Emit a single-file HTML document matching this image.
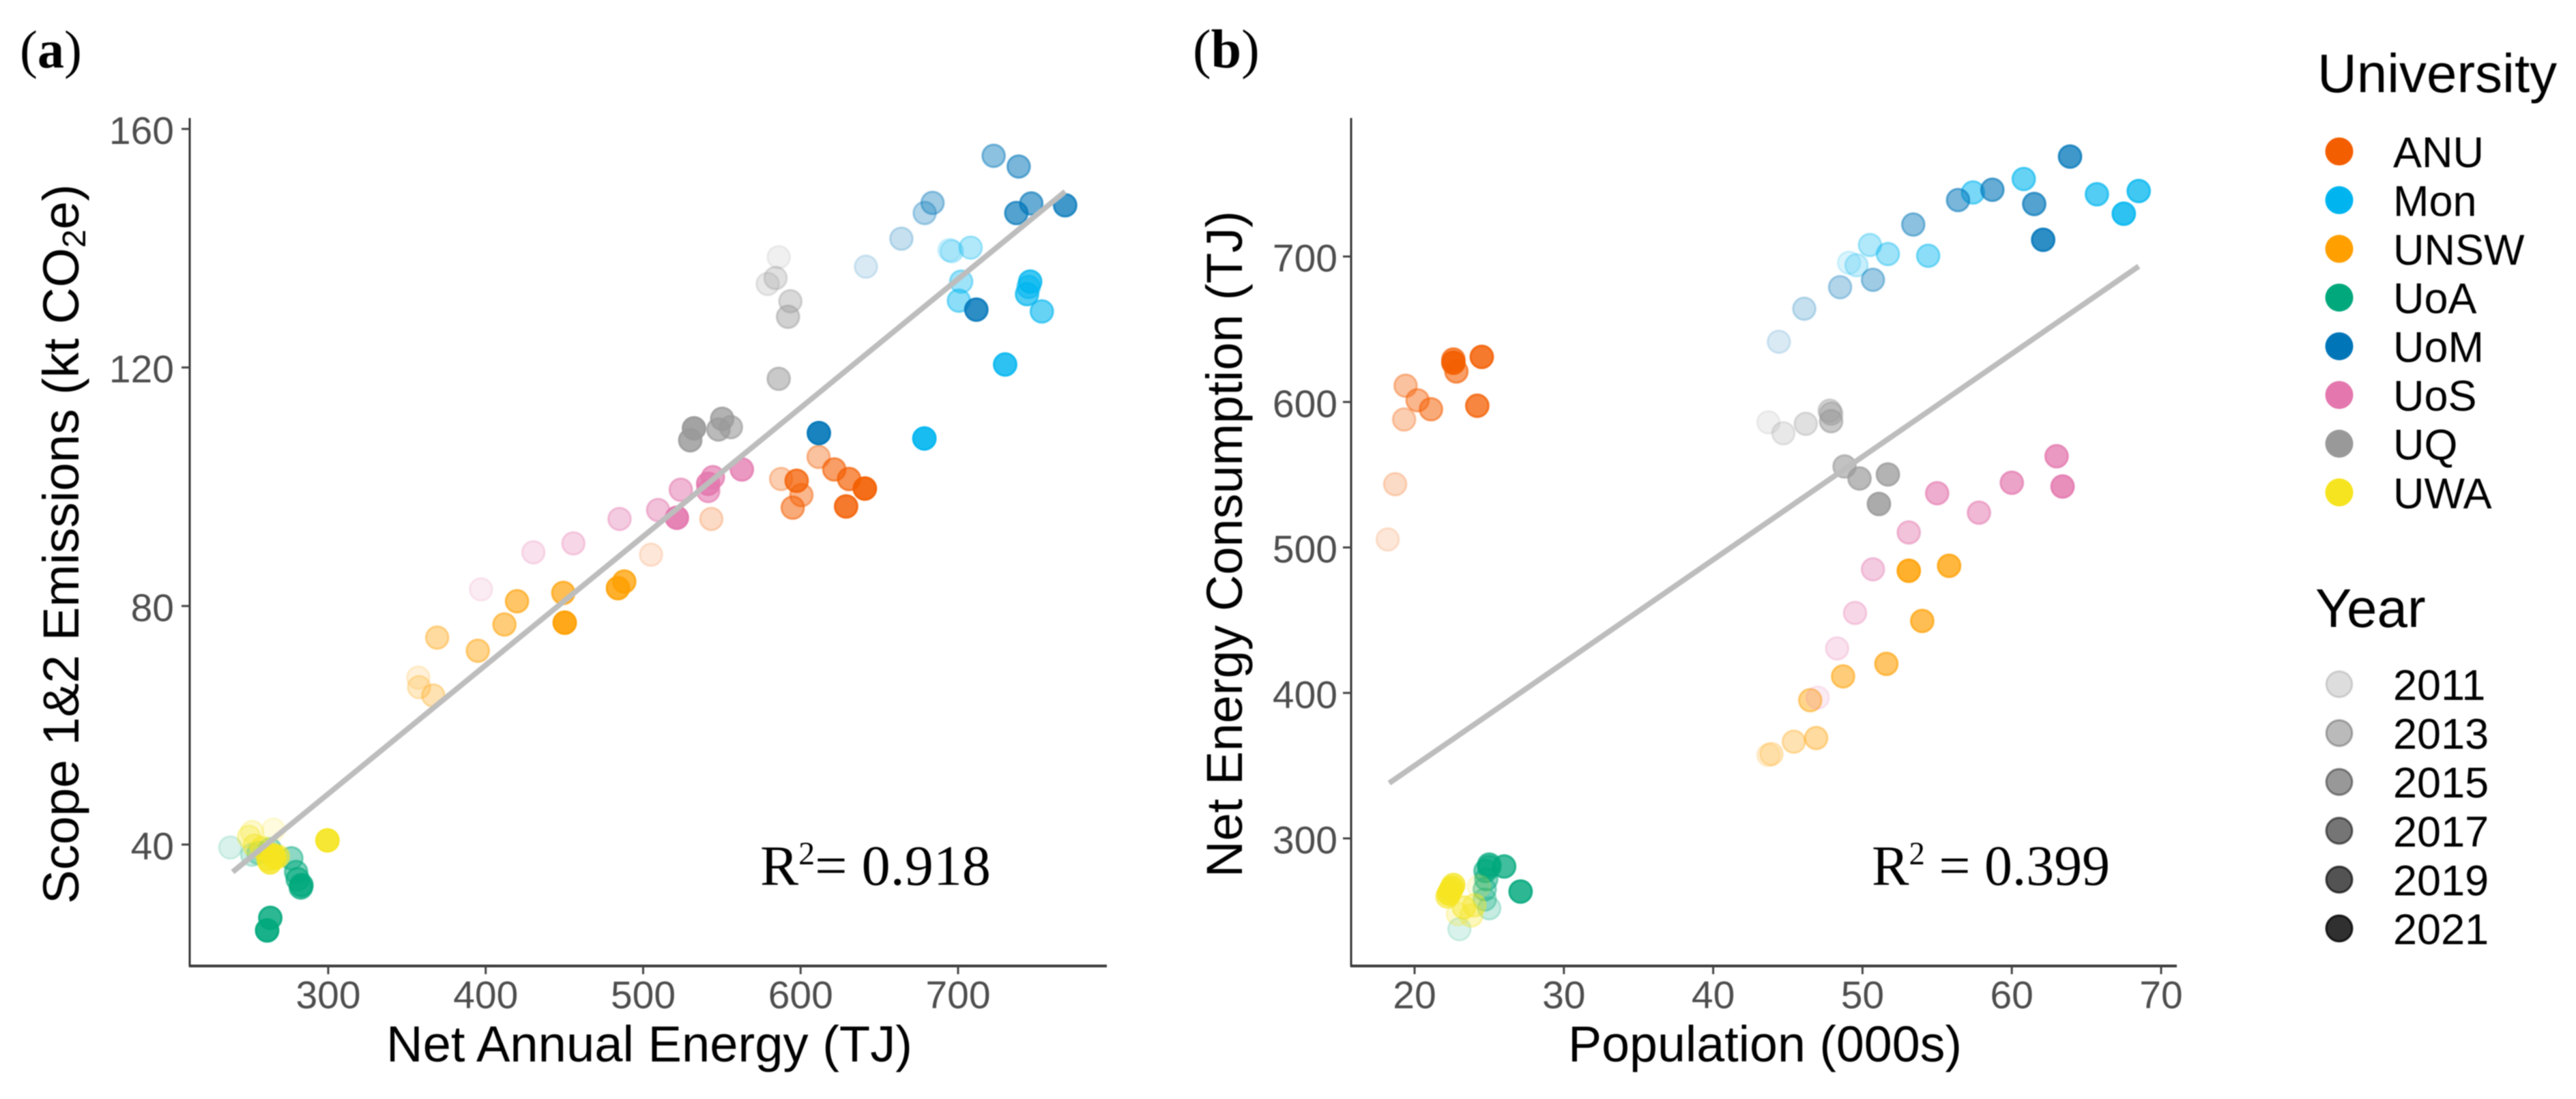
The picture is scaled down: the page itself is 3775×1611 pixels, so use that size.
<!DOCTYPE html>
<html lang="en">
<head>
<meta charset="utf-8">
<title>University energy and emissions scatter plots</title>
<style>
html,body{margin:0;padding:0;background:#fff;width:3775px;height:1611px;overflow:hidden}
svg{display:block;filter:blur(0.8px)}
text{font-family:"Liberation Sans",Arial,sans-serif;fill:#000}
.serif{font-family:"Liberation Serif","Times New Roman",serif}
.tick{font-size:57px;fill:#4d4d4d}
.title{font-size:74px}
.leg{font-size:63px}
.legt{font-size:80px}
</style>
</head>
<body>
<svg id="figure" xmlns="http://www.w3.org/2000/svg" width="3775" height="1611" viewBox="0 0 3775 1611">
  <rect width="3775" height="1611" fill="#fff"/>
  <text class="serif" x="29" y="99" font-size="78">(<tspan font-weight="bold">a</tspan>)</text>
  <text class="serif" x="1748" y="99" font-size="80">(<tspan font-weight="bold">b</tspan>)</text>

  <g id="panelA"></g>
  <g id="panelB"></g>

  <text class="title" transform="translate(115,1325) rotate(-90)" x="0" y="0" textLength="1055" lengthAdjust="spacingAndGlyphs">Scope 1&amp;2 Emissions (kt CO<tspan font-size="48" dy="10">2</tspan><tspan dy="-10">e)</tspan></text>
  <text class="title" x="566" y="1556" textLength="771" lengthAdjust="spacingAndGlyphs">Net Annual Energy (TJ)</text>
  <text class="title" transform="translate(1820,1286) rotate(-90)" x="0" y="0" textLength="977" lengthAdjust="spacingAndGlyphs">Net Energy Consumption (TJ)</text>
  <text class="title" x="2298" y="1556" textLength="577" lengthAdjust="spacingAndGlyphs">Population (000s)</text>

  <text class="serif" x="1114" y="1297" font-size="84" textLength="338" lengthAdjust="spacingAndGlyphs">R<tspan font-size="48" dy="-30">2</tspan><tspan dy="30">= 0.918</tspan></text>
  <text class="serif" x="2743" y="1297" font-size="84" textLength="349" lengthAdjust="spacingAndGlyphs">R<tspan font-size="48" dy="-30">2</tspan><tspan dy="30"> = 0.399</tspan></text>

  <text class="legt" x="3396" y="135">University</text>
  <text class="legt" x="3393" y="919">Year</text>
  <g id="legendU"></g>
  <g id="legendY"></g>
</svg>
<script>
// ---- categories ----
const universities = ['ANU','Mon','UNSW','UoA','UoM','UoS','UQ','UWA'];
const legendYears = [2011,2013,2015,2017,2019,2021];
const years = [2011,2012,2013,2014,2015,2016,2017,2018,2019,2020,2021];

// ---- panel (a): net annual energy (TJ), scope 1&2 emissions (kt CO2e) ----
const anuEnergy  = [505,543.3,587.6,611.4,600.5,595,621.4,630.8,597.5,628.9,640.8];
const anuEmis    = [88.6,94.6,101.3,105,98.6,96.5,102.9,101.3,101,96.7,99.7];
const monEnergy  = [694.5,696,708,702,700.5,744.8,753.2,743.8,745.8,729.9,678.6];
const monEmis    = [139.7,139.5,140.1,134.4,131.2,133.5,129.4,132.3,134.4,120.5,108.1];
const unswEnergy = [357.2,357.7,366.7,369.2,395,411.9,419.9,449.3,488,484,450.2];
const unswEmis   = [68,66.4,65,74.7,72.5,76.9,80.8,82.2,84.1,83,77.2];
const uoaEnergy  = [237.8,251.7,255.7,263,276.6,279.6,280.6,282.6,283,263.2,261.2];
const uoaEmis    = [39.5,38.3,38.6,39.2,37.7,35.4,34.2,32.8,33.2,27.7,25.6];
const uomEnergy  = [641.5,664,678.8,683.8,722.6,738.5,746.5,737,768,711.6,611.6];
const uomEmis    = [136.9,141.6,145.9,147.6,155.5,153.7,147.5,145.9,147.2,129.7,109];
const uosEnergy  = [397,430.3,455.7,485,509.5,523.9,541.3,544.3,562.7,541.3,521.4];
const uosEmis    = [82.8,89,90.5,94.6,96.1,99.5,99.3,101.6,102.9,100.5,94.8];
const uqEnergy   = [586.1,579.1,584.1,593.5,592,586.1,555.7,547.8,550.2,529.9,532.3];
const uqEmis     = [138.5,134,135,131.1,128.5,118.1,110,109.6,111.4,107.8,109.8];
const uwaEnergy  = [265.2,251.7,249.7,253.2,258,268,262,266,263,265,299.5];
const uwaEmis    = [42.5,42.1,41.3,39.8,39.4,38,37.5,37.8,37,38.2,40.7];

// ---- panel (b): population (000s), net energy consumption (TJ) ----
const anuPop  = [18.2,18.7,19.3,19.4,20.2,21.1,22.8,22.6,24.2,24.5,22.6];
const anuCons = [505.5,543.5,588,611.2,601.2,595,621,629.2,597.4,631,627];
const monPop  = [49.1,49.6,50.5,51.7,54.4,57.4,60.8,65.7,68.5,67.5];
const monCons = [695.7,694,707.9,701.7,700.5,744,753.3,742.8,745,729.4];
const unswPop  = [43.7,43.9,45.4,46.9,46.5,48.7,51.6,54,55.8,53.1];
const unswCons = [357.3,358,366.5,369,395,411.4,420,449.5,487.4,484];
const uoaPop  = [23,25,24.7,24.7,24.8,24.75,25,25,26,27.1];
const uoaCons = [237.6,252,258,265,272,277.6,280.3,282,280.7,263.5];
const uomPop  = [44.4,46.1,48.5,50.7,53.4,56.4,58.7,61.5,63.9,62.1];
const uomCons = [641.4,664.1,678.9,684,722,738.8,745.9,736.1,768.7,711.5];
const uosPop  = [47,48.3,49.5,50.7,53.1,57.8,55,60,63,63.4];
const uosCons = [396.8,430.6,455,485,510.3,523.9,537.3,544.5,562.7,541.9];
const uqPop  = [43.7,44.7,46.2,47.8,47.9,47.9,48.8,49.8,51.7,51.1];
const uqCons = [586,578.5,585,594,592,586.8,555.7,547.4,550.2,529.9];
const uwaPop  = [24.3,22.9,23.8,24,23.3,22.2,22.4,22.6,22.5,22.3];
const uwaCons = [267,248,247,254,252.6,260,264,268,266,262];

// ---- regression lines (endpoints in data units) ----
const fitAX = [239.3,768];
const fitAY = [35.4,149.5];
const fitBX = [18.3,68.5];
const fitBY = [338,693.3];

// ---- tick labels ----
const aXTicks = [300,400,500,600,700];
const aYTicks = [40,80,120,160];
const bXTicks = [20,30,40,50,60,70];
const bYTicks = [300,400,500,600,700];

const colors = {ANU:'#F35E00',Mon:'#00B5EF',UNSW:'#FF9F00',UoA:'#00A87C',UoM:'#0075B8',UoS:'#E377AE',UQ:'#999999',UWA:'#F5E41F'};
const seriesA = {ANU:[anuEnergy,anuEmis],Mon:[monEnergy,monEmis],UNSW:[unswEnergy,unswEmis],UoA:[uoaEnergy,uoaEmis],UoM:[uomEnergy,uomEmis],UoS:[uosEnergy,uosEmis],UQ:[uqEnergy,uqEmis],UWA:[uwaEnergy,uwaEmis]};
const seriesB = {ANU:[anuPop,anuCons],Mon:[monPop,monCons],UNSW:[unswPop,unswCons],UoA:[uoaPop,uoaCons],UoM:[uomPop,uomCons],UoS:[uosPop,uosCons],UQ:[uqPop,uqCons],UWA:[uwaPop,uwaCons]};

const NS = 'http://www.w3.org/2000/svg';
function make(tag, attrs, parent){
  const el = document.createElementNS(NS, tag);
  for (const k in attrs) el.setAttribute(k, attrs[k]);
  parent.appendChild(el);
  return el;
}
function linear(d0,d1,r0,r1){ return v => r0 + (v-d0)*(r1-r0)/(d1-d0); }
function alphaFor(year){ return 0.15 + 0.075*(year-2011); }

function drawPanel(g, cfg){
  const x = cfg.x, y = cfg.y;

  const yAxis = make('line',{x1:cfg.left,x2:cfg.left,y1:173,y2:cfg.bottom+1,stroke:'#333',"stroke-width":3},g);
  
  
  const xAxis = make('line',{x1:cfg.left-1,x2:cfg.right,y1:cfg.bottom,y2:cfg.bottom,stroke:'#3a3a3a',"stroke-width":4},g);
  
  

  cfg.xTicks.forEach(t => {
    const tk = make('line',{x1:x(t),x2:x(t),y1:cfg.bottom,y2:cfg.bottom+12,stroke:'#444',"stroke-width":3},g);
    
    
    const lb = make('text',{x:x(t),y:1478,"text-anchor":'middle','class':'tick'},g);
    
    
    lb.textContent = t;
  });
  cfg.yTicks.forEach(t => {
    const tk = make('line',{x1:cfg.left-12,x2:cfg.left,y1:y(t),y2:y(t),stroke:'#444',"stroke-width":3},g);
    
    
    const lb = make('text',{x:cfg.labelRight,y:y(t)+22,"text-anchor":'end','class':'tick'},g);
    
    
    lb.textContent = t;
  });

  universities.forEach(u => {
    const xs = cfg.series[u][0], ys = cfg.series[u][1];
    xs.forEach((v,i) => {
      const a = alphaFor(years[i]);
      const c = make('circle',{cx:x(v),cy:y(ys[i]),r:16.5,fill:colors[u],stroke:colors[u],"stroke-width":3,"fill-opacity":a,"stroke-opacity":a},g);
      
      
    });
  });

  const fit = make('line',{x1:x(cfg.fitX[0]),y1:y(cfg.fitY[0]),x2:x(cfg.fitX[1]),y2:y(cfg.fitY[1]),stroke:'#bdbdbd',"stroke-width":8},g);
  
  
}

drawPanel(document.getElementById('panelA'),{
  x:linear(300,700,481,1404), y:linear(40,160,1238,189),
  left:278, right:1622, bottom:1416, labelRight:255,
  xTicks:aXTicks, yTicks:aYTicks, series:seriesA, fitX:fitAX, fitY:fitAY
});
drawPanel(document.getElementById('panelB'),{
  x:linear(20,70,2073,3167), y:linear(300,700,1229,376),
  left:1980, right:3190, bottom:1416, labelRight:1960,
  xTicks:bXTicks, yTicks:bYTicks, series:seriesB, fitX:fitBX, fitY:fitBY
});

const legU = document.getElementById('legendU');
universities.forEach((u,i) => {
  const cy = 222 + i*71.4;
  const c = make('circle',{cx:3428,cy:cy,r:20.5,fill:colors[u]},legU);
  
  
  const t = make('text',{x:3507,y:cy+23,'class':'leg'},legU);
  
  
  t.textContent = u;
});
const legY = document.getElementById('legendY');
legendYears.forEach((yr,i) => {
  const cy = 1003 + i*71.6;
  const a = alphaFor(yr)*0.9;
  const c = make('circle',{cx:3428,cy:cy,r:19,fill:'#000',stroke:'#000',"stroke-width":3,"fill-opacity":a,"stroke-opacity":a},legY);
  
  
  const t = make('text',{x:3507,y:cy+23,'class':'leg'},legY);
  
  
  t.textContent = yr;
});
</script>
</body>
</html>
